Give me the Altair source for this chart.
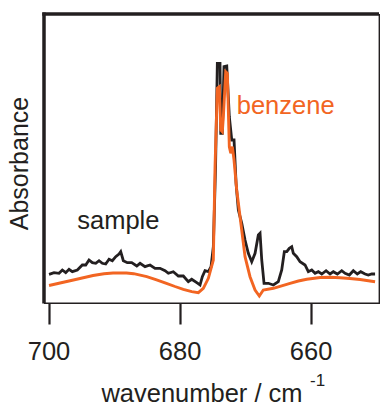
import altair as alt
import pandas as pd

# sample (black) spectrum: wavenumber (cm-1) and absorbance (arb.)
sample_x = [699.92, 699.16, 698.40, 697.89, 697.37, 696.87, 696.37, 695.60, 694.84, 694.32,
            693.82, 693.31, 692.79, 692.29, 691.79, 691.27, 690.76, 690.26, 689.74, 689.24,
            688.98, 688.58, 687.97, 687.30, 686.53, 686.03, 685.27, 684.50, 683.74, 682.98,
            682.21, 681.71, 680.95, 680.18, 679.42, 678.66, 678.14, 677.37, 676.87, 676.52,
            676.11, 675.60, 675.19, 674.84, 674.50, 674.23, 673.82, 673.71, 673.47, 673.21,
            672.79, 672.40, 672.03, 671.68, 671.37, 671.02, 670.50, 670.00, 669.50, 668.98,
            668.47, 667.97, 667.71, 667.45, 667.10, 666.44, 665.68, 664.92, 664.40, 664.00,
            663.63, 663.24, 662.87, 662.63, 662.11, 661.60, 660.84, 660.34, 659.82, 659.31,
            658.81, 658.29, 657.63, 657.02, 656.52, 655.91, 655.24, 654.73, 654.08, 653.47,
            652.86, 652.34, 651.68, 651.18, 650.66, 650.15]
sample_y = [0.287, 0.303, 0.297, 0.330, 0.303, 0.337, 0.313, 0.330, 0.380, 0.380,
            0.430, 0.403, 0.397, 0.423, 0.397, 0.390, 0.437, 0.423, 0.463, 0.490,
            0.513, 0.423, 0.403, 0.403, 0.370, 0.397, 0.363, 0.380, 0.347, 0.347,
            0.323, 0.297, 0.313, 0.270, 0.270, 0.213, 0.237, 0.203, 0.180, 0.263,
            0.323, 0.313, 0.363, 0.563, 1.363, 2.397, 2.397, 1.697, 1.697, 2.363,
            2.370, 1.863, 1.630, 1.630, 1.197, 0.930, 0.797, 0.630, 0.497, 0.413,
            0.497, 0.680, 0.697, 0.430, 0.197, 0.197, 0.180, 0.213, 0.330, 0.513,
            0.513, 0.547, 0.563, 0.497, 0.463, 0.413, 0.380, 0.313, 0.330, 0.297,
            0.313, 0.290, 0.323, 0.290, 0.313, 0.290, 0.323, 0.297, 0.280, 0.323,
            0.290, 0.313, 0.290, 0.280, 0.290, 0.290]

# benzene (orange) reference spectrum
benzene_x = [699.92, 698.24, 696.20, 693.20, 691.53, 690.15, 688.10, 687.00, 685.00, 683.50,
             682.00, 680.69, 679.42, 678.14, 677.13, 676.37,
             675.60, 674.84, 674.58, 674.23, 673.92, 673.71, 673.47, 673.31, 672.95, 672.70,
             672.40, 672.18, 671.94, 671.68, 671.27, 670.76, 670.00, 669.24, 668.47, 667.82,
             667.21, 665.68, 663.13, 661.86, 660.58, 658.55, 657.00, 655.50, 654.00, 652.44,
             650.15]
benzene_y = [0.175, 0.200, 0.230, 0.275, 0.293, 0.300, 0.300, 0.293, 0.263, 0.232,
             0.197, 0.165, 0.137, 0.113, 0.103, 0.147,
             0.247, 0.430, 1.363, 2.147, 2.163, 1.730, 1.713, 1.863, 2.313, 2.297,
             1.563, 1.497, 1.563, 1.430, 1.130, 0.863, 0.463, 0.263, 0.130, 0.070,
             0.130, 0.147, 0.197, 0.220, 0.237, 0.255, 0.258, 0.252, 0.245, 0.235,
             0.213]

x_ticks = [700, 680, 660]
x_domain = [649.55, 700.69]
y_domain = [0, 2.89]

label_text = ["sample", "benzene"]
label_x = [689.34, 671.27]
label_y = [0.74, 1.89]

BLACK = "#231f20"
ORANGE = "#f26522"
FONT = "Liberation Sans"

df_s = pd.DataFrame({"x": sample_x, "y": sample_y, "o": range(len(sample_x))})
df_b = pd.DataFrame({"x": benzene_x, "y": benzene_y, "o": range(len(benzene_x))})

xscale = alt.Scale(domain=x_domain, reverse=True, nice=False, zero=False)
yscale = alt.Scale(domain=y_domain, nice=False, zero=False)

xenc = alt.X("x:Q", scale=xscale,
             axis=alt.Axis(values=x_ticks, format="d", domain=False, grid=False,
                           ticks=True, tickSize=21, tickWidth=2.2, tickColor=BLACK,
                           labelFont=FONT, labelFontSize=25.5, labelColor=BLACK,
                           labelBaseline="alphabetic", labelPadding=35,
                           title="wavenumber / cm", titleFont=FONT, titleFontSize=25.5,
                           titleFontWeight="normal", titleColor=BLACK,
                           titleBaseline="alphabetic", titleAlign="center",
                           titleX=157.5, titleY=98))
yenc = alt.Y("y:Q", scale=yscale,
             axis=alt.Axis(domain=False, grid=False, ticks=False, labels=False,
                           title="Absorbance", titleFont=FONT, titleFontSize=25,
                           titleFontWeight="normal", titleColor=BLACK,
                           titleAngle=-90, titleBaseline="alphabetic",
                           titleAlign="center", titleX=-17, titleY=149))

sample_line = alt.Chart(df_s).mark_line(color=BLACK, strokeWidth=2.8).encode(
    x=xenc, y=yenc, order="o:O")
benzene_line = alt.Chart(df_b).mark_line(color=ORANGE, strokeWidth=2.9).encode(
    x=alt.X("x:Q", scale=xscale), y=alt.Y("y:Q", scale=yscale), order="o:O")

df_l = pd.DataFrame({"t": label_text, "x": label_x, "y": label_y})
lab_sample = alt.Chart(df_l.iloc[[0]]).mark_text(
    font=FONT, fontSize=25.5, color=BLACK, align="center", baseline="alphabetic"
).encode(x=alt.X("x:Q", scale=xscale), y=alt.Y("y:Q", scale=yscale), text="t:N")
lab_benz = alt.Chart(df_l.iloc[[1]]).mark_text(
    font=FONT, fontSize=25.5, color=ORANGE, align="left", baseline="alphabetic"
).encode(x=alt.X("x:Q", scale=xscale), y=alt.Y("y:Q", scale=yscale), text="t:N")

# superscript of the unit
sup = alt.Chart(pd.DataFrame({"t": ["-1"]})).mark_text(
    font=FONT, fontSize=17, color=BLACK, align="left", baseline="alphabetic"
).encode(x=alt.value(266), y=alt.value(372), text="t:N")

# frame
frame_df = pd.DataFrame({"a": [0]})
top = alt.Chart(frame_df).mark_rule(color=BLACK, strokeWidth=3.3).encode(
    x=alt.value(-1.7), x2=alt.value(335), y=alt.value(0))
left = alt.Chart(frame_df).mark_rule(color=BLACK, strokeWidth=3.5).encode(
    y=alt.value(-1.6), y2=alt.value(289.5), x=alt.value(0))
right = alt.Chart(frame_df).mark_rule(color=BLACK, strokeWidth=1.4).encode(
    y=alt.value(0), y2=alt.value(289.5), x=alt.value(335.3))
bottom = alt.Chart(frame_df).mark_rule(color=BLACK, strokeWidth=1.5).encode(
    x=alt.value(0), x2=alt.value(336), y=alt.value(289.3))

chart = alt.layer(
    sample_line, benzene_line, lab_sample, lab_benz, sup, top, left, right, bottom
).properties(
    width=335, height=289,
    autosize=alt.AutoSizeParams(type="none"),
    padding={"left": 44, "top": 14, "right": 1, "bottom": 103},
    background="white",
).configure_view(stroke=None)

chart.save("out.html", embed_options={"renderer": "svg", "actions": False})
